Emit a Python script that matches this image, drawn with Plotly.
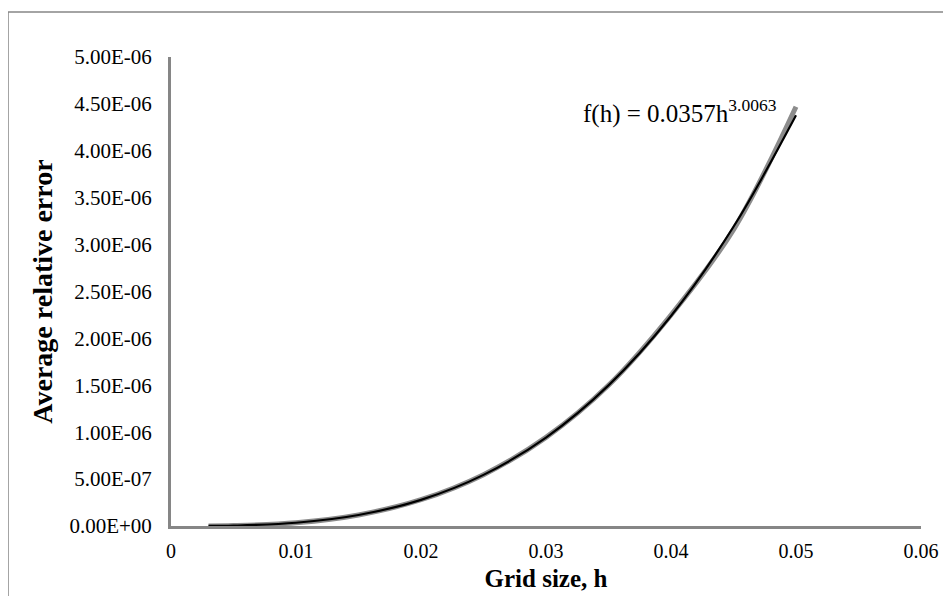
import plotly.graph_objects as go

# Data
h_values = [0.003, 0.005, 0.01, 0.015, 0.02, 0.025, 0.03, 0.035, 0.04, 0.045, 0.05]
avg_rel_error = [9.5e-10, 4.4e-9, 3.5e-8, 1.18e-7, 2.80e-7, 5.47e-7, 9.45e-7, 1.50e-6, 2.25e-6, 3.16e-6, 4.47e-6]
# Power trendline values f(h) = 0.0357 h^3.0063 at the same h values
trend_values = [9.3e-10, 4.31e-9, 3.47e-8, 1.173e-7, 2.787e-7, 5.45e-7, 9.43e-7, 1.499e-6, 2.239e-6, 3.19e-6, 4.379e-6]

x_ticks = [0, 0.01, 0.02, 0.03, 0.04, 0.05, 0.06]
x_tick_labels = ["0", "0.01", "0.02", "0.03", "0.04", "0.05", "0.06"]
y_ticks = [0, 5e-7, 1e-6, 1.5e-6, 2e-6, 2.5e-6, 3e-6, 3.5e-6, 4e-6, 4.5e-6, 5e-6]
y_tick_labels = ["0.00E+00", "5.00E-07", "1.00E-06", "1.50E-06", "2.00E-06", "2.50E-06",
                 "3.00E-06", "3.50E-06", "4.00E-06", "4.50E-06", "5.00E-06"]

FONT = "Liberation Serif, Times New Roman, serif"
AXIS_GRAY = "#868686"

# page body has an 8px margin, so figure is sized/positioned to compensate
L, R, T, B = 163, 30, 49, 70
W, H = 943, 588
PW, PH = W - L - R, H - T - B

fig = go.Figure()
fig.add_trace(go.Scatter(x=h_values, y=avg_rel_error, mode="lines",
                         line=dict(color="#8c8c8c", width=5, shape="spline"),
                         showlegend=False))
fig.add_trace(go.Scatter(x=h_values, y=trend_values, mode="lines",
                         line=dict(color="#000000", width=2.2, shape="spline"),
                         showlegend=False))

fig.add_annotation(x=0.0328, y=4.42e-6, xref="x", yref="y",
                   text="f(h) = 0.0357h<sup>3.0063</sup>", showarrow=False,
                   xanchor="left", yanchor="middle",
                   font=dict(family=FONT, size=25, color="#000000"))

# outer chart-area border
fig.add_shape(type="rect", xref="paper", yref="paper",
              x0=(0 - L) / PW, x1=(W + 20 - L) / PW,
              y0=-(B + 30) / PH, y1=(PH + T - 4) / PH,
              line=dict(color=AXIS_GRAY, width=1.5), fillcolor="rgba(0,0,0,0)",
              layer="below")

fig.update_layout(
    width=W, height=H,
    margin=dict(l=L, r=R, t=T, b=B, autoexpand=False),
    paper_bgcolor="white", plot_bgcolor="white",
    font=dict(family=FONT, color="#000000"),
    xaxis=dict(range=[0, 0.06], tickvals=x_ticks, ticktext=x_tick_labels,
               showgrid=False, zeroline=False, showline=True, linecolor=AXIS_GRAY,
               linewidth=3, ticks="", tickfont=dict(size=20, family=FONT),
               ticklabelstandoff=5, automargin=False,
               title=dict(text="<b>Grid size, h</b>", font=dict(size=25, family=FONT),
                          standoff=9)),
    yaxis=dict(range=[0, 5e-6], tickvals=y_ticks, ticktext=y_tick_labels,
               showgrid=False, zeroline=False, showline=True, linecolor=AXIS_GRAY,
               linewidth=3, ticks="", tickfont=dict(size=21, family=FONT),
               ticklabelstandoff=12, automargin=False,
               title=dict(text="<b>Average relative error</b>", font=dict(size=28, family=FONT),
                          standoff=9)),
)

fig.write_html("out.html")
